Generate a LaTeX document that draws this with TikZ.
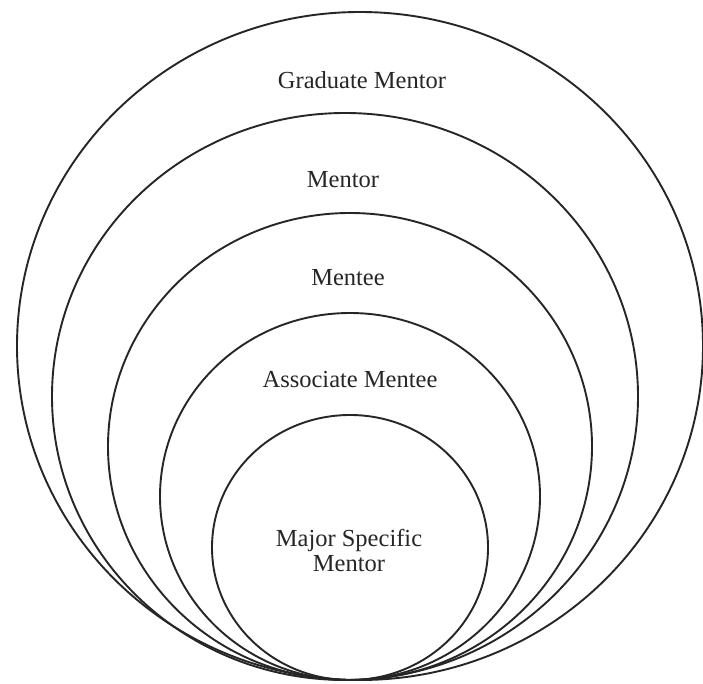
\documentclass[tikz,border=0pt]{standalone}
\usepackage{fontspec}
\setmainfont{Liberation Serif}
\begin{document}
\begin{tikzpicture}[x=1pt,y=-1pt,
  ring/.style={draw=black!85,line width=1.9pt},
  lbl/.style={font=\fontsize{24.5}{25}\selectfont,align=center,inner sep=0pt,text=black!85}]
\useasboundingbox (0,0) rectangle (703,684);
\fill[white] (0,0) rectangle (703,684);
\draw[ring] (360,346) ellipse [x radius=343,y radius=334];
\draw[ring] (345,396.5) ellipse [x radius=293,y radius=283.5];
\draw[ring] (350,446.5) ellipse [x radius=242,y radius=233.5];
\draw[ring] (350,496.5) ellipse [x radius=190,y radius=183.5];
\draw[ring] (350,547.5) ellipse [x radius=138,y radius=132.5];
\node[lbl] (grad) at (362,80) {Graduate Mentor};
\node[lbl] (mentor) at (343,180) {Mentor};
\node[lbl] (mentee) at (348,278) {Mentee};
\node[lbl] (assoc) at (350,380) {Associate Mentee};
\node[lbl] (major) at (349,550) {Major Specific\\Mentor};
\end{tikzpicture}
\end{document}
